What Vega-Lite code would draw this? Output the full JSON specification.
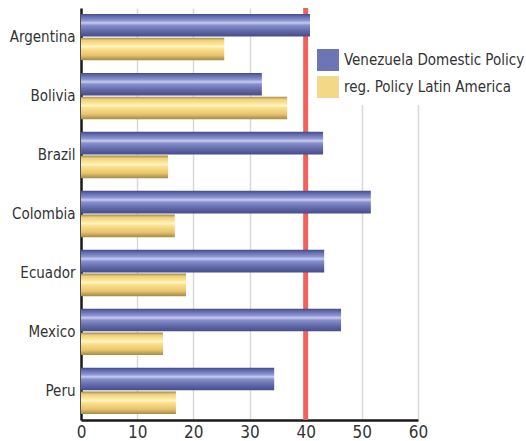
{
  "$schema": "https://vega.github.io/schema/vega-lite/v6.json",
  "autosize": {"type": "none"},
  "padding": {"left": 81, "top": 8, "right": 108, "bottom": 21},
  "width": 337,
  "height": 412,
  "background": "white",
  "config": {
    "font": "Liberation Sans Narrow, DejaVu Sans Condensed, sans-serif",
    "view": {"stroke": null}
  },
  "data": {
    "values": [
      {"country": "Argentina", "series": "Venezuela Domestic Policy", "value": 40.8},
      {"country": "Argentina", "series": "reg. Policy Latin America", "value": 25.5},
      {"country": "Bolivia", "series": "Venezuela Domestic Policy", "value": 32.2},
      {"country": "Bolivia", "series": "reg. Policy Latin America", "value": 36.7},
      {"country": "Brazil", "series": "Venezuela Domestic Policy", "value": 43.1},
      {"country": "Brazil", "series": "reg. Policy Latin America", "value": 15.5},
      {"country": "Colombia", "series": "Venezuela Domestic Policy", "value": 51.6},
      {"country": "Colombia", "series": "reg. Policy Latin America", "value": 16.7},
      {"country": "Ecuador", "series": "Venezuela Domestic Policy", "value": 43.3},
      {"country": "Ecuador", "series": "reg. Policy Latin America", "value": 18.7},
      {"country": "Mexico", "series": "Venezuela Domestic Policy", "value": 46.3},
      {"country": "Mexico", "series": "reg. Policy Latin America", "value": 14.6},
      {"country": "Peru", "series": "Venezuela Domestic Policy", "value": 34.4},
      {"country": "Peru", "series": "reg. Policy Latin America", "value": 16.9}
    ]
  },
  "encoding": {
    "y": {
      "field": "country",
      "type": "nominal",
      "scale": {"paddingInner": 0.215, "paddingOuter": 0.1},
      "axis": {
        "title": null,
        "ticks": false,
        "labelFontSize": 15,
        "labelColor": "#333333",
        "labelPadding": 6,
        "domainColor": "#1a1a1a",
        "domainWidth": 2.5
      }
    },
    "yOffset": {
      "field": "series",
      "type": "nominal",
      "sort": ["Venezuela Domestic Policy", "reg. Policy Latin America"],
      "scale": {"paddingInner": 0.05}
    },
    "x": {
      "field": "value",
      "type": "quantitative",
      "scale": {"domain": [0, 60]},
      "axis": {
        "title": null,
        "values": [0, 10, 20, 30, 40, 50, 60],
        "ticks": false,
        "labelFontSize": 17,
        "labelColor": "#333333",
        "labelPadding": 4,
        "labelFlush": false,
        "domainColor": "#1a1a1a",
        "domainWidth": 2.5,
        "gridColor": "#d9d9d9",
        "gridWidth": 1.5
      }
    },
    "color": {
      "field": "series",
      "type": "nominal",
      "scale": {
        "domain": ["Venezuela Domestic Policy", "reg. Policy Latin America"],
        "range": ["#6d75b5", "#f3d888"]
      },
      "legend": {
        "orient": "none",
        "legendX": 229,
        "legendY": -8,
        "padding": 7,
        "fillColor": "white",
        "title": " ",
        "titleFontSize": 28,
        "titlePadding": 14,
        "symbolType": "square",
        "symbolSize": 484,
        "symbolStrokeWidth": 0,
        "labelFontSize": 15,
        "labelColor": "#333333",
        "labelOffset": 5,
        "labelLimit": 300,
        "rowPadding": 5
      }
    }
  },
  "layer": [
    {
      "data": {"values": [{"ref": 40}]},
      "mark": {"type": "rule", "color": "#f2625c", "strokeWidth": 5},
      "encoding": {
        "x": {"field": "ref", "type": "quantitative"},
        "y": null,
        "yOffset": null,
        "color": null
      }
    },
    {
      "transform": [{"filter": "datum.series === 'Venezuela Domestic Policy'"}],
      "mark": {
        "type": "bar",
        "fill": {"gradient": "linear", "x1": 0, "y1": 0, "x2": 0, "y2": 1, "stops": [
          {"offset": 0, "color": "#444b86"},
          {"offset": 0.12, "color": "#646cae"},
          {"offset": 0.3, "color": "#8d95d2"},
          {"offset": 0.4, "color": "#c9cdee"},
          {"offset": 0.5, "color": "#8890cc"},
          {"offset": 0.75, "color": "#626aab"},
          {"offset": 1, "color": "#464d88"}
        ]}
      }
    },
    {
      "transform": [{"filter": "datum.series === 'reg. Policy Latin America'"}],
      "mark": {
        "type": "bar",
        "fill": {"gradient": "linear", "x1": 0, "y1": 0, "x2": 0, "y2": 1, "stops": [
          {"offset": 0, "color": "#9e8a4c"},
          {"offset": 0.12, "color": "#efcf76"},
          {"offset": 0.3, "color": "#fbe79a"},
          {"offset": 0.4, "color": "#fff4c6"},
          {"offset": 0.5, "color": "#fbe08c"},
          {"offset": 0.78, "color": "#e8c46c"},
          {"offset": 1, "color": "#a08a4a"}
        ]}
      }
    }
  ]
}
